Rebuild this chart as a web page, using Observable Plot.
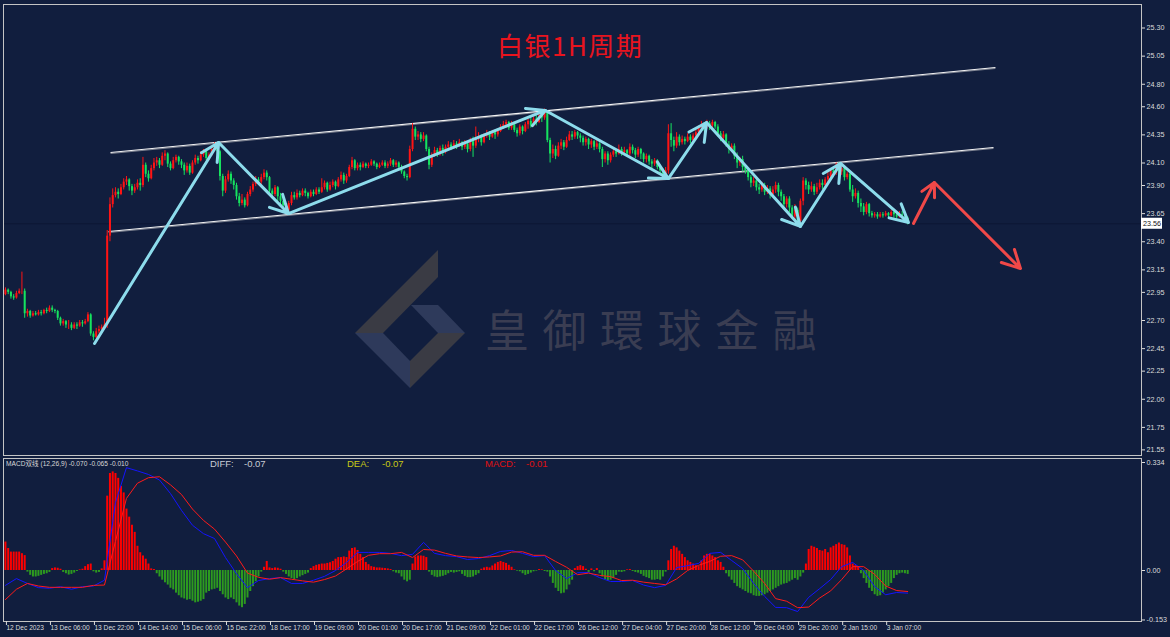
<!DOCTYPE html>
<html><head><meta charset="utf-8">
<script src="https://cdn.jsdelivr.net/npm/d3@7"></script>
<script src="https://cdn.jsdelivr.net/npm/@observablehq/plot@0.6"></script>
<style>
html,body{margin:0;padding:0;background:#111e3e;}
#wrap{position:relative;width:1170px;height:637px;overflow:hidden;background:#111e3e;}
#wrap > *{position:absolute;left:0;}
</style></head>
<body><div id="wrap"></div>
<script>
// ---------------- DATA ----------------
const timeTickIdx = [0,16,32,48,64,80,96,112,128,144,160,176,192,208,224,240,256,272,288,304,320];
const timeLabels = ["12 Dec 2023","13 Dec 06:00","13 Dec 22:00","14 Dec 14:00","15 Dec 06:00","15 Dec 22:00","18 Dec 17:00","19 Dec 09:00","20 Dec 01:00","20 Dec 17:00","21 Dec 09:00","22 Dec 01:00","22 Dec 17:00","26 Dec 12:00","27 Dec 04:00","27 Dec 20:00","28 Dec 12:00","29 Dec 04:00","29 Dec 20:00","2 Jan 15:00","3 Jan 07:00"];
const priceTicks = [25.30,25.05,24.80,24.60,24.35,24.10,23.90,23.65,23.40,23.15,22.95,22.70,22.45,22.25,22.00,21.75,21.55];
const macdTicks = [0.334, 0, -0.153];
const macdTickLabels = ["0.334","0.00","-0.153"];
const lastPrice = 23.56;
const firstOpen = 22.93;
const closes = [
22.97,22.95,22.91,22.90,22.94,22.96,22.96,22.76,22.78,22.74,
22.76,22.75,22.77,22.76,22.79,22.78,22.81,22.79,22.78,22.72,
22.67,22.69,22.66,22.66,22.63,22.66,22.65,22.68,22.67,22.69,
22.75,22.58,22.55,22.60,22.62,22.64,22.66,23.45,23.73,23.81,
23.84,23.82,23.88,23.93,23.95,23.89,23.85,23.88,23.92,23.90,
24.08,24.00,23.96,24.05,24.10,24.12,24.08,24.16,24.18,24.09,
24.05,24.12,24.15,24.11,24.08,24.03,24.07,24.01,24.10,24.14,
24.12,24.17,24.20,24.14,24.17,24.22,24.25,24.20,23.98,23.85,
23.95,24.00,23.94,23.90,23.80,23.74,23.77,23.72,23.82,23.86,
23.91,23.95,23.93,23.97,24.01,23.97,23.85,23.82,23.88,23.80,
23.76,23.72,23.68,23.74,23.81,23.79,23.83,23.81,23.85,23.83,
23.80,23.84,23.82,23.86,23.84,23.88,23.92,23.86,23.90,23.93,
23.89,23.95,23.99,23.94,23.98,24.06,24.12,24.05,24.08,24.06,
24.09,24.07,24.08,24.11,24.09,24.06,24.08,24.10,24.07,24.09,
24.12,24.08,24.10,24.06,24.02,23.98,23.97,24.22,24.40,24.33,
24.35,24.31,24.34,24.22,24.08,24.17,24.21,24.18,24.23,24.20,
24.24,24.26,24.23,24.27,24.25,24.28,24.24,24.27,24.22,24.29,
24.25,24.31,24.33,24.28,24.34,24.36,24.33,24.37,24.35,24.38,
24.42,24.44,24.46,24.41,24.44,24.39,24.36,24.42,24.38,24.44,
24.47,24.43,24.49,24.46,24.52,24.50,24.55,24.30,24.18,24.22,
24.16,24.25,24.28,24.24,24.30,24.35,24.33,24.37,24.34,24.32,
24.28,24.31,24.26,24.29,24.24,24.27,24.22,24.13,24.18,24.12,
24.17,24.20,24.18,24.22,24.19,24.21,24.18,24.24,24.21,24.17,
24.22,24.18,24.13,24.16,24.11,24.09,24.12,24.06,24.03,23.99,
24.03,24.36,24.30,24.25,24.33,24.28,24.31,24.29,24.33,24.30,
24.34,24.37,24.41,24.44,24.42,24.45,24.43,24.46,24.42,24.36,
24.32,24.35,24.26,24.22,24.25,24.16,24.10,24.13,24.06,24.03,
23.97,23.92,23.94,23.88,23.86,23.90,23.84,23.87,23.82,23.86,
23.90,23.84,23.80,23.73,23.78,23.70,23.62,23.68,23.58,23.76,
23.94,23.90,23.86,23.89,23.84,23.88,23.92,23.90,23.95,23.98,
24.03,24.01,24.08,24.02,24.05,23.97,24.00,23.86,23.80,23.83,
23.74,23.71,23.66,23.73,23.65,23.63,23.64,23.62,23.64,23.63,
23.65,23.63,23.66,23.64,23.62,23.64,23.63,23.61,23.56];
const highs = [
22.99,22.98,22.96,22.93,22.96,22.98,23.13,22.98,22.80,22.79,
22.78,22.78,22.79,22.79,22.80,22.81,22.83,22.83,22.80,22.79,
22.73,22.71,22.70,22.70,22.68,22.68,22.68,22.70,22.70,22.71,
22.77,22.76,22.60,22.63,22.65,22.66,22.72,23.50,23.79,23.87,
23.88,23.87,23.91,23.96,23.98,23.96,23.91,23.91,23.95,23.96,
24.15,24.10,24.03,24.08,24.14,24.15,24.14,24.19,24.21,24.19,
24.11,24.15,24.17,24.16,24.13,24.10,24.10,24.09,24.12,24.17,
24.16,24.20,24.22,24.21,24.19,24.24,24.28,24.27,24.21,24.00,
23.98,24.03,24.02,23.96,23.92,23.83,23.82,23.79,23.84,23.89,
23.93,23.98,23.97,24.00,24.04,24.03,23.98,23.87,23.90,23.89,
23.83,23.80,23.74,23.76,23.84,23.84,23.86,23.85,23.87,23.87,
23.84,23.86,23.86,23.88,23.88,23.96,23.94,23.93,23.93,23.95,
23.94,23.97,24.02,24.01,24.00,24.08,24.15,24.13,24.10,24.10,
24.11,24.10,24.10,24.13,24.12,24.10,24.10,24.12,24.12,24.11,
24.14,24.13,24.12,24.11,24.08,24.03,24.00,24.25,24.45,24.42,
24.38,24.37,24.37,24.35,24.24,24.19,24.24,24.23,24.25,24.26,
24.26,24.29,24.28,24.30,24.29,24.31,24.29,24.30,24.29,24.32,
24.33,24.42,24.37,24.35,24.36,24.39,24.38,24.39,24.39,24.40,
24.44,24.47,24.48,24.47,24.47,24.45,24.41,24.44,24.43,24.46,
24.49,24.50,24.51,24.52,24.54,24.55,24.58,24.56,24.32,24.26,
24.25,24.28,24.31,24.30,24.33,24.38,24.38,24.39,24.38,24.36,
24.34,24.33,24.32,24.31,24.30,24.30,24.28,24.24,24.20,24.20,
24.19,24.23,24.22,24.26,24.24,24.24,24.22,24.27,24.26,24.23,
24.24,24.23,24.19,24.18,24.17,24.13,24.14,24.13,24.08,24.05,
24.06,24.44,24.45,24.33,24.37,24.35,24.34,24.33,24.36,24.35,
24.36,24.40,24.43,24.47,24.46,24.48,24.47,24.48,24.47,24.44,
24.38,24.38,24.36,24.29,24.27,24.27,24.19,24.15,24.16,24.08,
24.05,23.99,23.97,23.96,23.91,23.93,23.92,23.90,23.89,23.89,
23.93,23.92,23.86,23.82,23.80,23.80,23.72,23.73,23.70,23.78,
23.97,23.96,23.93,23.93,23.91,23.92,23.95,23.95,23.97,24.02,
24.05,24.06,24.10,24.10,24.07,24.06,24.02,24.01,23.90,23.87,
23.85,23.78,23.74,23.75,23.74,23.67,23.66,23.66,23.66,23.66,
23.67,23.66,23.68,23.67,23.65,23.67,23.67,23.65,23.62];
const lows = [
22.92,22.93,22.89,22.88,22.89,22.93,22.93,22.72,22.73,22.72,
22.73,22.74,22.74,22.74,22.75,22.76,22.77,22.77,22.76,22.70,
22.65,22.65,22.63,22.62,22.61,22.62,22.62,22.64,22.64,22.66,
22.68,22.56,22.52,22.54,22.58,22.60,22.62,22.63,23.40,23.70,
23.79,23.78,23.81,23.86,23.90,23.85,23.81,23.83,23.86,23.85,
23.88,23.97,23.93,23.95,24.03,24.07,24.05,24.07,24.12,24.06,
24.03,24.04,24.10,24.08,24.05,23.99,24.01,23.99,24.00,24.08,
24.09,24.11,24.15,24.12,24.12,24.16,24.20,24.17,23.94,23.80,
23.83,23.93,23.91,23.86,23.77,23.71,23.72,23.70,23.71,23.80,
23.84,23.89,23.90,23.91,23.95,23.94,23.82,23.78,23.80,23.76,
23.73,23.69,23.65,23.66,23.72,23.77,23.77,23.79,23.80,23.80,
23.78,23.79,23.80,23.81,23.82,23.83,23.86,23.84,23.85,23.88,
23.86,23.88,23.93,23.91,23.92,23.97,24.04,24.03,24.03,24.03,
24.05,24.05,24.05,24.07,24.07,24.04,24.05,24.07,24.05,24.05,
24.07,24.06,24.06,24.03,24.00,23.96,23.94,23.96,24.20,24.30,
24.30,24.28,24.29,24.20,24.04,24.06,24.15,24.15,24.16,24.16,
24.18,24.22,24.21,24.22,24.22,24.24,24.21,24.22,24.19,24.20,
24.15,24.23,24.28,24.25,24.27,24.32,24.30,24.32,24.31,24.33,
24.37,24.40,24.41,24.39,24.39,24.37,24.33,24.34,24.35,24.37,
24.40,24.41,24.42,24.43,24.45,24.46,24.48,24.28,24.10,24.14,
24.13,24.15,24.22,24.21,24.23,24.29,24.30,24.31,24.31,24.28,
24.25,24.25,24.22,24.23,24.21,24.22,24.19,24.06,24.10,24.08,
24.10,24.15,24.15,24.17,24.16,24.17,24.15,24.16,24.18,24.14,
24.15,24.13,24.10,24.10,24.08,24.05,24.07,24.04,24.00,23.97,
23.96,24.00,24.24,24.20,24.23,24.25,24.26,24.26,24.28,24.27,
24.28,24.32,24.36,24.39,24.38,24.40,24.39,24.41,24.40,24.33,
24.29,24.30,24.24,24.18,24.20,24.13,24.05,24.07,24.02,24.00,
23.94,23.88,23.89,23.85,23.82,23.84,23.81,23.82,23.78,23.79,
23.83,23.80,23.76,23.70,23.70,23.66,23.60,23.58,23.55,23.54,
23.72,23.86,23.82,23.84,23.81,23.82,23.86,23.86,23.88,23.91,
23.96,23.97,23.99,23.99,23.99,23.94,23.95,23.84,23.75,23.78,
23.70,23.66,23.63,23.64,23.62,23.61,23.61,23.60,23.61,23.61,
23.62,23.61,23.62,23.61,23.60,23.61,23.60,23.58,23.55];
const macdHist = [
0.088,0.068,0.057,0.057,0.057,0.057,0.052,0.046,-0.005,-0.015,
-0.020,-0.020,-0.018,-0.015,-0.012,-0.010,-0.006,0.006,0.008,0.007,
0.004,-0.006,-0.010,-0.014,-0.012,-0.008,-0.003,0.002,0.004,0.012,
0.018,0.020,-0.004,-0.008,-0.006,0.005,0.030,0.230,0.300,0.305,
0.300,0.285,0.260,0.240,0.190,0.165,0.140,0.118,0.075,0.055,
0.045,0.035,0.020,0.005,0.003,-0.010,-0.020,-0.030,-0.038,-0.045,
-0.055,-0.060,-0.070,-0.078,-0.085,-0.088,-0.092,-0.090,-0.095,-0.100,
-0.098,-0.095,-0.090,-0.070,-0.065,-0.060,-0.058,-0.055,-0.065,-0.075,
-0.085,-0.090,-0.085,-0.090,-0.100,-0.110,-0.115,-0.105,-0.085,-0.065,
-0.050,-0.035,-0.020,-0.005,0.010,0.028,0.008,0.006,0.008,0.007,
0.004,-0.005,-0.012,-0.020,-0.025,-0.028,-0.025,-0.020,-0.016,-0.012,
-0.008,0.006,0.012,0.016,0.018,0.020,0.020,0.022,0.024,0.028,
0.035,0.040,0.040,0.042,0.040,0.060,0.068,0.070,0.062,0.050,
0.040,0.025,0.018,0.012,0.010,0.008,0.008,0.007,0.006,0.005,
0.003,-0.004,-0.008,-0.010,-0.020,-0.030,-0.035,-0.030,0.020,0.042,
0.045,0.045,0.044,0.040,-0.005,-0.015,-0.020,-0.022,-0.020,-0.018,
-0.015,-0.010,-0.006,-0.008,-0.006,-0.004,-0.012,-0.018,-0.022,-0.022,
-0.020,-0.015,-0.010,0.004,0.008,0.010,0.008,0.014,0.020,0.025,
0.028,0.025,0.022,0.016,0.010,0.002,-0.002,-0.004,-0.010,-0.015,
-0.012,-0.008,-0.004,-0.002,0.003,0.002,-0.003,-0.005,-0.020,-0.040,
-0.055,-0.065,-0.072,-0.070,-0.060,-0.045,-0.030,0.006,0.012,0.015,
0.012,0.004,-0.006,0.005,-0.004,0.006,-0.010,-0.020,-0.028,-0.032,
-0.030,-0.025,-0.015,-0.005,-0.006,-0.004,0.002,0.003,-0.003,-0.006,
-0.008,-0.012,-0.018,-0.022,-0.025,-0.030,-0.030,-0.028,-0.030,-0.020,
-0.005,0.030,0.065,0.075,0.070,0.060,0.050,0.040,0.030,0.025,
0.020,0.015,0.012,0.030,0.045,0.050,0.050,0.045,0.040,0.030,
0.025,0.010,-0.010,-0.020,-0.030,-0.040,-0.050,-0.055,-0.060,-0.065,
-0.070,-0.072,-0.078,-0.080,-0.080,-0.078,-0.075,-0.070,-0.065,-0.060,
-0.055,-0.050,-0.045,-0.042,-0.040,-0.035,-0.030,-0.025,-0.030,-0.020,
-0.008,0.020,0.065,0.075,0.072,0.068,0.062,0.060,0.065,0.055,
0.070,0.075,0.080,0.085,0.080,0.078,0.070,0.045,0.020,0.015,
0.010,-0.010,-0.025,-0.040,-0.055,-0.065,-0.075,-0.080,-0.078,-0.070,
-0.060,-0.050,-0.040,-0.025,-0.015,-0.010,-0.008,-0.010,-0.012];
// DIFF / DEA read every 4th bar
const lineBars = d3.range(0, 329, 4);
const diffValues = [
-0.046,-0.025,-0.040,-0.053,-0.055,-0.050,-0.058,-0.050,-0.048,-0.030,
0.210,0.318,0.308,0.297,0.280,0.238,0.186,0.140,0.114,0.099,
0.040,-0.010,-0.053,-0.031,-0.025,-0.022,-0.040,-0.040,-0.030,-0.018,
0.000,0.025,0.056,0.056,0.056,0.053,0.046,0.050,0.087,0.053,
0.046,0.043,0.034,0.037,0.046,0.059,0.062,0.053,0.043,0.046,
0.000,-0.025,-0.007,-0.006,-0.022,-0.034,-0.034,-0.031,-0.045,-0.053,
-0.046,0.009,0.015,0.022,0.053,0.056,0.031,0.006,-0.040,-0.080,
-0.114,-0.115,-0.127,-0.083,-0.056,-0.028,0.012,0.025,0.000,-0.050,
-0.075,-0.068,-0.070];
const deaValues = [
-0.090,-0.058,-0.040,-0.048,-0.052,-0.052,-0.052,-0.052,-0.046,-0.045,
0.090,0.223,0.270,0.287,0.290,0.265,0.235,0.190,0.155,0.128,
0.088,0.045,-0.008,-0.021,-0.027,-0.022,-0.027,-0.032,-0.036,-0.028,
-0.017,0.005,0.028,0.047,0.052,0.052,0.056,0.040,0.065,0.063,
0.053,0.045,0.042,0.040,0.042,0.045,0.057,0.058,0.047,0.047,
0.028,0.010,-0.013,-0.008,-0.015,-0.019,-0.031,-0.030,-0.036,-0.040,
-0.044,-0.026,0.000,0.016,0.028,0.044,0.046,0.033,-0.002,-0.040,
-0.087,-0.095,-0.115,-0.113,-0.085,-0.063,-0.028,0.012,0.012,-0.012,
-0.048,-0.062,-0.065];
// channel lines (bar index, price)
const channelStartBar = [38.2, 37.5];
const channelStartPrice = [24.193, 23.491];
const channelEndBar = [359.9, 359.2];
const channelEndPrice = [24.949, 24.238];
// wave path (cyan) and projection (red)
const waveBars = [32.4, 77.5, 102.9, 196.3, 241.0, 254.9, 289.0, 303.6, 328.3];
const wavePrices = [22.496, 24.282, 23.651, 24.567, 23.962, 24.460, 23.536, 24.096, 23.571];
const projBars = [330.1, 337.7, 369.0];
const projPrices = [23.562, 23.927, 23.162];

// ---------------- BUILD ----------------
const UP = "#ff1414", DOWN = "#16e35f";
const bars = closes.map((c, i) => {
  const o = i === 0 ? firstOpen : closes[i - 1];
  return {i, open: o, close: c, high: Math.max(highs[i], o, c), low: Math.min(lows[i], o, c)};
});
const channels = channelStartBar.map((b, k) => ({x1: b, y1: channelStartPrice[k], x2: channelEndBar[k], y2: channelEndPrice[k]}));
const segs = (bs, ps) => d3.pairs(bs.map((b, k) => ({b, p: ps[k]}))).map(([a, z]) => ({x1: a.b, y1: a.p, x2: z.b, y2: z.p}));
const waveSegs = segs(waveBars, wavePrices);
const projSegs = segs(projBars, projPrices);
const histData = macdHist.map((v, i) => ({i, v}));
const lineData = lineBars.map((b, k) => ({i: b, diff: diffValues[k], dea: deaValues[k]}));

const axisStyle = {background: "transparent", color: "#dcdcdc", fontFamily: "'Liberation Sans', Arial, sans-serif", fontSize: "7.2px", overflow: "visible"};
const xDomain = [-0.7, 413];
const wrap = document.getElementById("wrap");

// watermark (background decoration)
const NS = "http://www.w3.org/2000/svg";
const bg = document.createElementNS(NS, "svg");
bg.setAttribute("width", 1170); bg.setAttribute("height", 637); bg.style.top = "0px";
bg.innerHTML = `
<polygon points="438,250 438,277 383,333 355,333" fill="#3a3b44"/>
<polygon points="411,305 438,305 465,333 438,333" fill="#2e3a5b"/>
<polygon points="355,333 383,333 410,361 410,388" fill="#2e3a5b"/>
<polygon points="410,361 438,333 465,333 410,388" fill="#3a3b44"/>
<text x="485" y="347" font-size="44" font-weight="400" letter-spacing="13.5" fill="#3a3d52" font-family="'Noto Sans CJK TC','Noto Sans CJK SC',sans-serif">皇御環球金融</text>`;
wrap.appendChild(bg);

const main = Plot.plot({
  width: 1170, height: 457,
  marginLeft: 3, marginRight: 29, marginTop: 4, marginBottom: 2,
  x: {domain: xDomain, axis: null, label: null},
  y: {domain: [21.5, 25.509], axis: null, label: null},
  style: axisStyle,
  marks: [
    Plot.ruleY([lastPrice], {stroke: "#0c1735", strokeWidth: 1}),
    Plot.link(channels, {x1: "x1", y1: "y1", x2: "x2", y2: "y2", stroke: "#7d8290", strokeWidth: 1, dy: 1}),
    Plot.link(channels, {x1: "x1", y1: "y1", x2: "x2", y2: "y2", stroke: "#f4f4f4", strokeWidth: 1.1}),
    Plot.ruleX(bars, {x: "i", y1: "low", y2: "high", stroke: d => d.close >= d.open ? UP : DOWN, strokeWidth: 1}),
    Plot.ruleX(bars, {x: "i", y1: "open", y2: "close", stroke: d => d.close >= d.open ? UP : DOWN, strokeWidth: 2}),
    Plot.arrow(waveSegs, {x1: "x1", y1: "y1", x2: "x2", y2: "y2", stroke: "#8ddcec", strokeWidth: 3, headLength: 10, headAngle: 55}),
    Plot.arrow(projSegs, {x1: "x1", y1: "y1", x2: "x2", y2: "y2", stroke: "#f04848", strokeWidth: 3, headLength: 10, headAngle: 55}),
    Plot.frame({stroke: "#c4c4c4"}),
    Plot.axisY(priceTicks, {anchor: "right", label: null, tickSize: 3, tickPadding: 2, tickFormat: d => d.toFixed(2)})
  ]
});
main.style.top = "0px";
wrap.appendChild(main);

const macd = Plot.plot({
  width: 1170, height: 180,
  marginLeft: 3, marginRight: 29, marginTop: 1, marginBottom: 16,
  x: {domain: xDomain, axis: null, label: null},
  y: {domain: [-0.1577, 0.3464], axis: null, label: null},
  style: axisStyle,
  marks: [
    Plot.ruleX(histData, {x: "i", y1: 0, y2: "v", stroke: d => d.v >= 0 ? "#ff0000" : "#2d9a1f", strokeWidth: 2}),
    Plot.line(lineData, {x: "i", y: "diff", stroke: "#1414ff", strokeWidth: 1}),
    Plot.line(lineData, {x: "i", y: "dea", stroke: "#ff1a1a", strokeWidth: 1}),
    Plot.frame({stroke: "#c4c4c4"}),
    Plot.axisY(macdTicks, {anchor: "right", label: null, tickSize: 3, tickPadding: 2, tickFormat: d => macdTickLabels[macdTicks.indexOf(d)]}),
    Plot.axisX(timeTickIdx, {anchor: "bottom", label: null, tickSize: 4, tickPadding: 0, textAnchor: "start", dx: 1, fontSize: 6.6, tickFormat: d => timeLabels[timeTickIdx.indexOf(d)]})
  ]
});
macd.style.top = "457px";
wrap.appendChild(macd);

// foreground texts
const fg = document.createElementNS(NS, "svg");
fg.setAttribute("width", 1170); fg.setAttribute("height", 637); fg.style.top = "0px";
const py = main.scale("y").apply(lastPrice);
fg.innerHTML = `
<text x="497" y="56" font-size="26" letter-spacing="1.5" fill="#e8141e" font-family="'Noto Sans CJK SC',sans-serif">白银1H周期</text>
<rect x="1141" y="${py - 5.5}" width="21" height="11" fill="#ffffff"/>
<text x="1143" y="${py + 3}" font-size="7.2" fill="#111" font-family="'Liberation Sans',Arial">${lastPrice.toFixed(2)}</text>
<text x="6" y="466" font-size="6.6" fill="#d8d8d8" font-family="'Liberation Sans','Noto Sans CJK SC',Arial">MACD双线 (12,26,9) -0.070 -0.065 -0.010</text>
<g font-size="9.5" font-family="'Liberation Sans',Arial">
<text x="210" y="467" fill="#c8ccd4">DIFF:</text><text x="244" y="467" fill="#c8ccd4">-0.07</text>
<text x="347" y="467" fill="#c9c915">DEA:</text><text x="382" y="467" fill="#c9c915">-0.07</text>
<text x="485" y="467" fill="#e01010">MACD:</text><text x="526" y="467" fill="#e01010">-0.01</text>
</g>`;
wrap.appendChild(fg);
</script>
</body></html>
